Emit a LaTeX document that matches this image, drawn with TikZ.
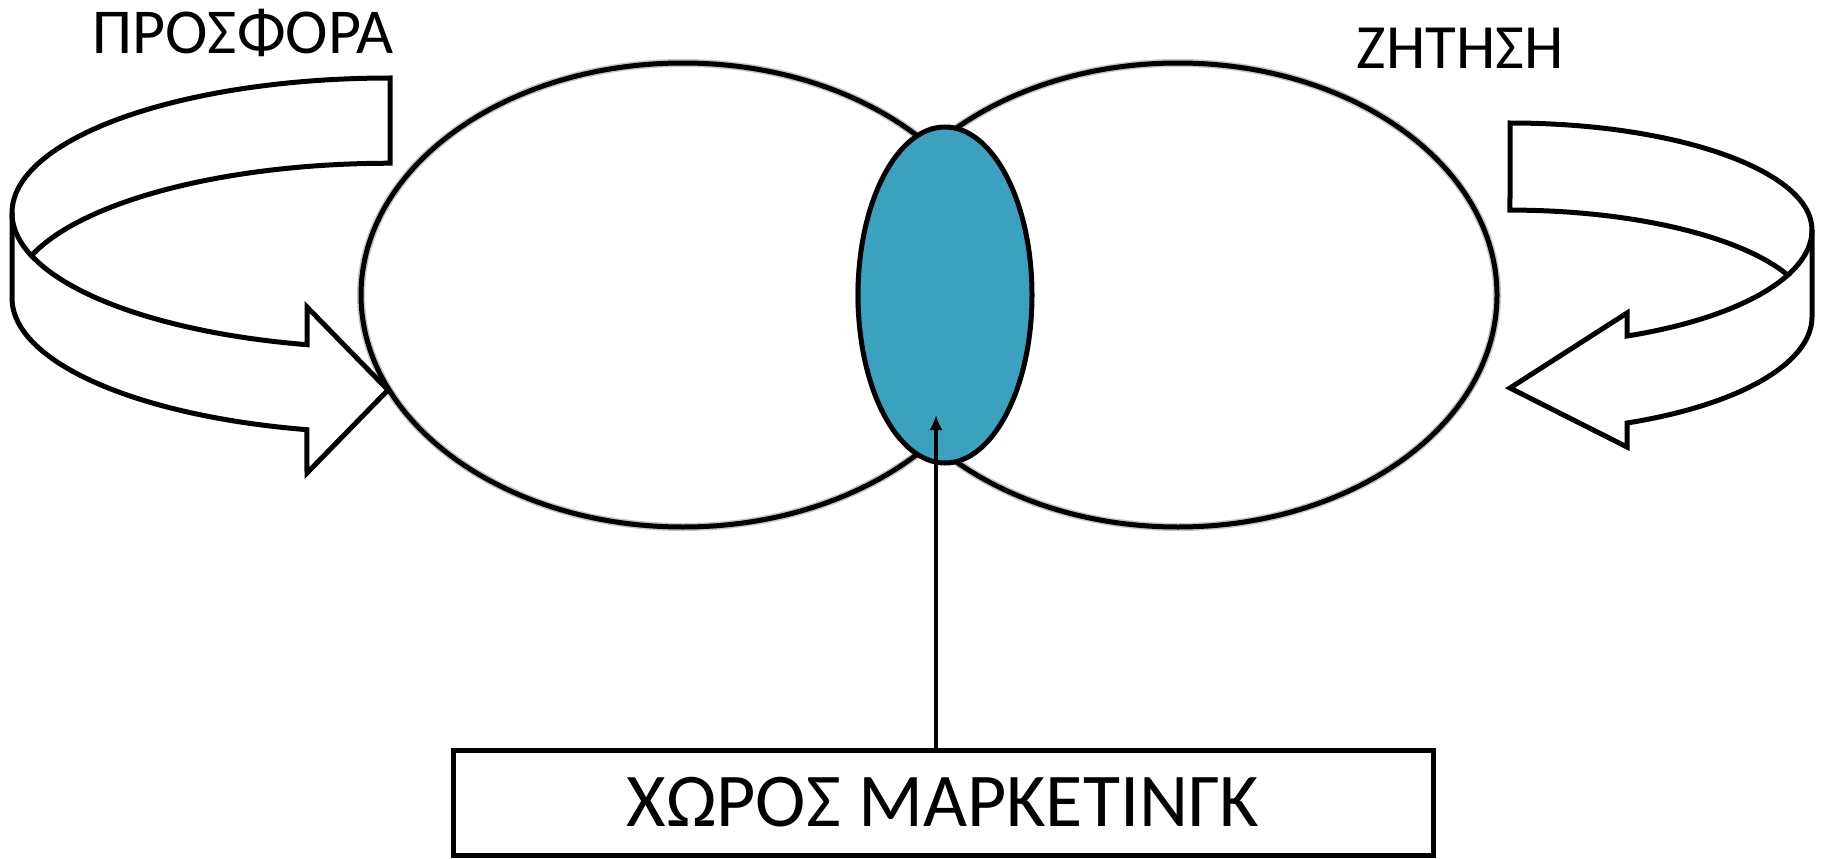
\documentclass[tikz,border=0pt]{standalone}
\usepackage{fontspec}
\setmainfont{Carlito}
\usepackage{xcolor}
\usetikzlibrary{arrows.meta,shapes.geometric}

\definecolor{marketblue}{RGB}{60,161,190}

\begin{document}
\begin{tikzpicture}[x=1pt, y=1pt, line width=5pt, line join=miter]
\useasboundingbox (0,0) rectangle (1821,-859);

\node (supply) at (243,-33) {\fontsize{64}{72}\selectfont ΠΡΟΣΦΟΡΑ};
\node (demand) at (1460,-48) {\fontsize{63}{72}\selectfont ΖΗΤΗΣΗ};

% Supply and demand
\draw[gray!45, line width=8pt] (683,-295) ellipse [x radius=322, y radius=232];
\draw[gray!45, line width=8pt] (1178,-295) ellipse [x radius=319, y radius=232];
\draw (683,-295) ellipse [x radius=322, y radius=232];
\draw (1178,-295) ellipse [x radius=319, y radius=232];

% Overlap blob
\node[
    ellipse,
    draw,
    fill=marketblue,
    minimum width=174pt,
    minimum height=336pt,
    inner sep=0pt
] (overlap) at (945,-295) {};

% Curved arrow, left
\draw (390,-78) arc[start angle=90, end angle=180, x radius=378, y radius=135]
  -- (12,-298) arc[start angle=180, end angle=257.3, x radius=378, y radius=135]
  -- (307,-473) -- (388,-390) -- (307,-307)
  -- (307,-344.7) arc[start angle=257.3, end angle=198.4, x radius=378, y radius=135]
  arc[start angle=161.6, end angle=90, x radius=378, y radius=135]
  -- cycle;
\draw (12,-213) arc[start angle=180, end angle=198.4, x radius=378, y radius=135];

% Curved arrow, right
\draw (1510,-123) arc[start angle=90, end angle=0, x radius=302, y radius=107]
  -- (1812,-317) arc[start angle=0, end angle=-67.2, x radius=302, y radius=115]
  -- (1627,-447) -- (1510,-388) -- (1627,-313)
  -- (1627,-336) arc[start angle=-67.2, end angle=-23.1, x radius=302, y radius=115]
  arc[start angle=23.1, end angle=90, x radius=302, y radius=107]
  -- cycle;
\draw (1812,-230) arc[start angle=0, end angle=-23.1, x radius=302, y radius=115];

% Marketing space
\node[
    draw,
    minimum width=980pt,
    minimum height=105pt,
    inner sep=0pt
] (space) at (943,-802.5) {\fontsize{76}{84}\selectfont ΧΩΡΟΣ ΜΑΡΚΕΤΙΝΓΚ};

\coordinate (tip) at (936,-415);
\draw[line width=4pt, -{Latex[length=15pt, width=13pt]}] (space.north -| tip) -- (tip);

\end{tikzpicture}
\end{document}
